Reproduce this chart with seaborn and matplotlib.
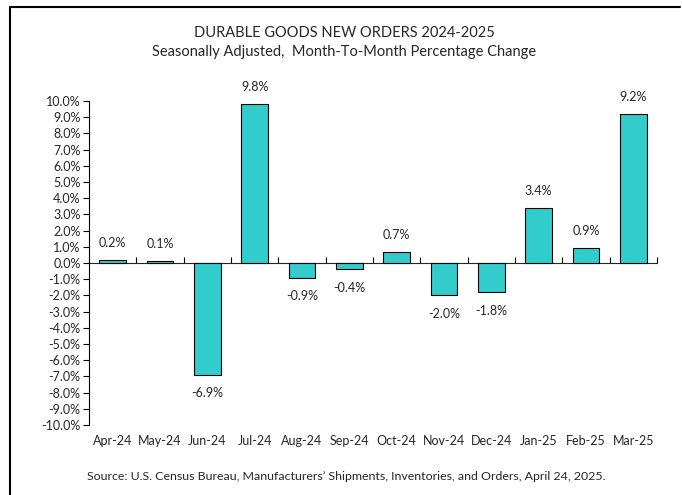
import matplotlib
matplotlib.use("Agg")
import matplotlib.pyplot as plt
from matplotlib.lines import Line2D
from matplotlib.ticker import FuncFormatter, MultipleLocator, FixedLocator, NullFormatter
import seaborn as sns
import pandas as pd
import numpy as np

months = ["Apr-24", "May-24", "Jun-24", "Jul-24", "Aug-24", "Sep-24",
          "Oct-24", "Nov-24", "Dec-24", "Jan-25", "Feb-25", "Mar-25"]
pct_change = [0.2, 0.1, -6.9, 9.8, -0.9, -0.4, 0.7, -2.0, -1.8, 3.4, 0.9, 9.2]

title_line1 = "DURABLE GOODS NEW ORDERS 2024-2025"
title_line2 = "Seasonally Adjusted,  Month-To-Month Percentage Change"
source_text = "Source: U.S. Census Bureau, Manufacturers\u2019 Shipments, Inventories, and Orders, April 24, 2025."

sns.set_style("white")
plt.rcParams["font.family"] = ["Lato", "DejaVu Sans"]

df = pd.DataFrame({"month": months, "pct": pct_change})

fig = plt.figure(figsize=(6.82, 4.95), dpi=100)
ax = fig.add_axes([89 / 682, 1 - 425 / 495, (657 - 89) / 682, (425 - 101) / 495])

sns.barplot(data=df, x="month", y="pct", color="#33CCCC", saturation=1,
            width=0.57, edgecolor="black", linewidth=0.8, ax=ax)

ax.set_ylim(-10, 10)
ax.set_xlim(-0.5, len(months) - 0.5)
ax.yaxis.set_major_locator(MultipleLocator(1))
ax.yaxis.set_major_formatter(FuncFormatter(lambda v, p: f"{v:.1f}%"))
ax.tick_params(axis="y", direction="out", length=4, width=0.8, color="black",
               labelsize=9, pad=2, left=True)
ax.tick_params(axis="x", length=0, labelsize=9, pad=7)
ax.set_xlabel("")
ax.set_ylabel("")
for s in ["top", "right", "bottom"]:
    ax.spines[s].set_visible(False)
ax.spines["left"].set_color("black")
ax.spines["left"].set_linewidth(0.8)

# zero line axis with boundary ticks
sec = ax.secondary_xaxis(0.5)
sec.xaxis.set_major_locator(FixedLocator(np.arange(-0.5, len(months), 1.0)))
sec.xaxis.set_major_formatter(NullFormatter())
sec.tick_params(axis="x", direction="out", length=4, width=0.8, color="black")
sec.spines["bottom"].set_color("black")
sec.spines["bottom"].set_linewidth(0.8)

for i, v in enumerate(pct_change):
    off = 8 if v >= 0 else -9
    ax.annotate(f"{v:.1f}%", (i, v), xytext=(0, off), textcoords="offset points",
                ha="center", va="bottom" if v >= 0 else "top", fontsize=9)

fig.text(0.505, 1 - 33 / 495, title_line1, ha="center", va="center", fontsize=10.5)
fig.text(0.505, 1 - 52 / 495, title_line2, ha="center", va="center", fontsize=10.5)
fig.text(0.507, 1 - 477 / 495, source_text, ha="center", va="center", fontsize=8.9)

fig.add_artist(Line2D([10 / 682, 10 / 682], [0, 1 - 7 / 495], transform=fig.transFigure,
                      color="black", linewidth=1.5))
fig.add_artist(Line2D([10 / 682, 680 / 682], [1 - 7 / 495, 1 - 7 / 495], transform=fig.transFigure,
                      color="black", linewidth=1.5))

fig.savefig("out.png", dpi=100)
